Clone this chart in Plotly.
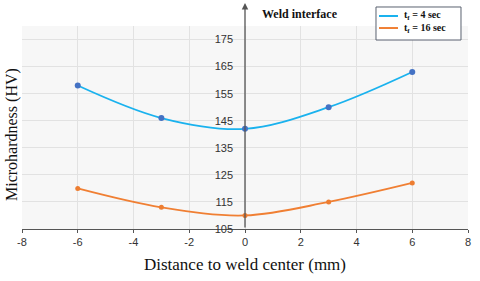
import plotly.graph_objects as go

distance = [-6, -3, 0, 3, 6]
hv_4sec = [158, 146, 142, 150, 163]
hv_16sec = [120, 113, 110, 115, 122]
series_names = ["<b>t<sub>f</sub> = 4 sec</b>", "<b>t<sub>f</sub> = 16 sec</b>"]
x_ticks = [-8, -6, -4, -2, 0, 2, 4, 6, 8]
y_ticks = [105, 115, 125, 135, 145, 155, 165, 175]

line_colors = ["#1AB2EE", "#F07F33"]
marker_colors = ["#4472C4", "#ED7D31"]

fig = go.Figure()
for vals, name, lc, mc, ms in zip([hv_4sec, hv_16sec], series_names, line_colors, marker_colors, [6, 5]):
    fig.add_trace(go.Scatter(x=distance, y=vals, mode="lines", name=name, showlegend=False,
                             line=dict(color=lc, width=1.8, shape="spline", smoothing=1.0)))
    fig.add_trace(go.Scatter(x=distance, y=vals, mode="markers", marker=dict(color=mc, size=ms),
                             name=name, showlegend=False))

# legend box (drawn manually for compact spacing)
fig.add_shape(type="rect", xref="paper", yref="paper", x0=0.7937, x1=0.9843, y0=0.931, y1=1.0936,
              line=dict(color="#5A6170", width=1), fillcolor="white", layer="above")
for name, lc, ly in zip(series_names, line_colors, [1.0493, 0.990]):
    fig.add_shape(type="line", xref="paper", yref="paper", x0=0.8004, x1=0.8430, y0=ly, y1=ly,
                  line=dict(color=lc, width=2), layer="above")
    fig.add_annotation(x=0.852, y=ly, xref="paper", yref="paper", xanchor="left", yanchor="middle",
                       text=name, showarrow=False, font=dict(family="Liberation Serif", size=10, color="#111"))

fig.add_annotation(x=0, y=1.113, xref="x", yref="paper", ax=0, ay=226, axref="pixel", ayref="pixel",
                   showarrow=True, arrowhead=2, arrowsize=1, arrowwidth=1.3, arrowcolor="#555555", text="")
fig.add_annotation(x=0.55, y=1.058, xref="x", yref="paper", xanchor="left", yanchor="middle",
                   text="<b>Weld interface</b>", showarrow=False,
                   font=dict(family="Liberation Serif", size=12, color="#111"))

fig.update_layout(
    width=480, height=281,
    margin=dict(l=22, r=12, t=26, b=52, autoexpand=False),
    paper_bgcolor="white", plot_bgcolor="#F7F7F7",
    showlegend=False,
    xaxis=dict(range=[-8, 8], tickvals=x_ticks, ticktext=[str(v) for v in x_ticks],
               showgrid=True, gridcolor="#E2E2E2", gridwidth=1, zeroline=False, automargin=False,
               showline=True, linecolor="#555555", linewidth=1.2, ticks="outside", ticklen=3, tickcolor="#555555",
               tickfont=dict(family="Liberation Sans", size=11, color="#333"),
               title=dict(text="Distance to weld center (mm)", font=dict(family="Liberation Serif", size=17, color="#111"), standoff=10)),
    yaxis=dict(range=[105, 180], tickvals=y_ticks, showgrid=True, gridcolor="#E2E2E2", gridwidth=1, zeroline=False,
               anchor="free", position=0.5, showline=False, ticks="", ticklabelstandoff=12, automargin=False,
               tickfont=dict(family="Liberation Sans", size=11, color="#333")),
)
fig.add_annotation(x=0, y=0.463, xref="paper", yref="paper", xshift=-10, xanchor="center", yanchor="middle",
                   text="Microhardness (HV)", textangle=-90,
                   showarrow=False, font=dict(family="Liberation Serif", size=16, color="#111"))

fig.write_html("out.html", config={"displayModeBar": False},
               post_script="document.body.style.margin='0';document.body.style.overflow='hidden';")
